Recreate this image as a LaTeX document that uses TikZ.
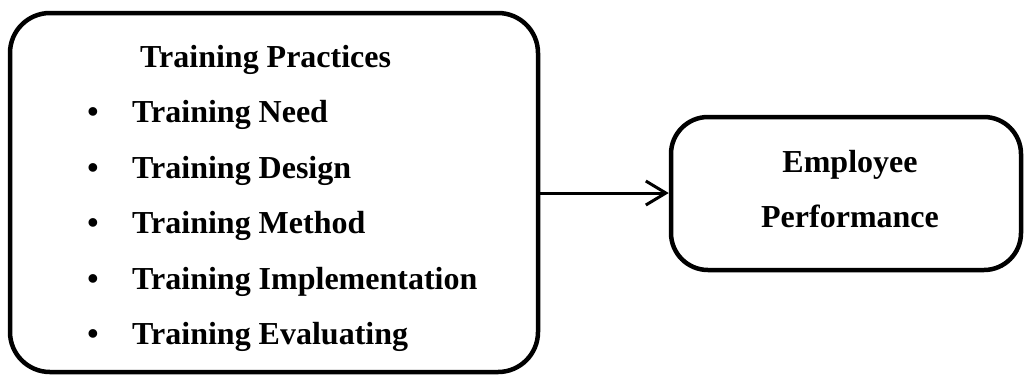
\documentclass[tikz,border=0pt]{standalone}
\usepackage{fontspec}
\setmainfont{Liberation Serif}
\usetikzlibrary{arrows.meta}
\begin{document}
\begin{tikzpicture}[x=1pt,y=-1pt,
  box/.style={draw, line width=4.5pt},
  txt/.style={font=\fontsize{32}{38}\selectfont\bfseries, inner sep=0pt},
  item/.style={txt, anchor=base west},
  dot/.style={txt, anchor=base},
  link/.style={line width=3pt, -{Straight Barb[length=20pt, width=24pt, line width=3pt]}}]
\useasboundingbox (0,0) rectangle (1025,376);

% the two framed blocks
\node[box, rounded corners=40pt, minimum width=528pt, minimum height=359pt] (practices) at (274,192.5) {};
\node[box, rounded corners=37pt, minimum width=350pt, minimum height=153pt] (perf) at (846,193.5) {};

% list of training practices
\node[item] (title) at (140,67) {Training Practices};
\foreach \y/\t [count=\i] in {122.5/Training Need, 178/Training Design, 233.5/Training Method, 289/Training Implementation, 344.5/Training Evaluating} {
  \node[dot] (b\i) at (93,\y) {•};
  \node[item] (t\i) at (132,\y) {\t};
}

% outcome block text
\node[txt, anchor=base] (emp) at (850,172) {Employee};
\node[txt, anchor=base] (per) at (850,227) {Performance};

% connector
\draw[link] (practices.east |- 0,193) coordinate (src) -- (src -| perf.west);
\end{tikzpicture}
\end{document}
